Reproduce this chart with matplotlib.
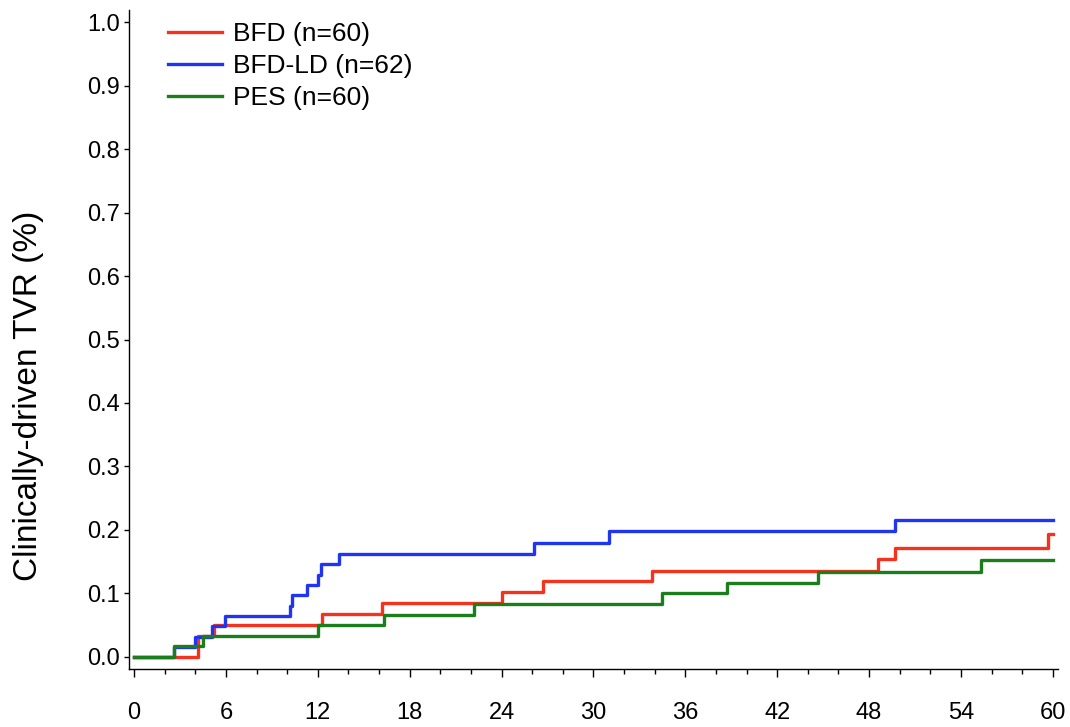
import numpy as np
import matplotlib.pyplot as plt
from matplotlib.ticker import MultipleLocator

plt.rcParams['font.family'] = ['Liberation Sans', 'DejaVu Sans']

# Kaplan-Meier style cumulative incidence, months vs proportion
bfd_t = [0, 4.15, 5.2, 12.3, 16.2, 24.0, 26.7, 33.85, 48.6, 49.7, 59.7, 60]
bfd_y = [0, 0.033, 0.051, 0.068, 0.085, 0.102, 0.119, 0.136, 0.155, 0.172, 0.193, 0.193]

bfdld_t = [0, 2.6, 4.0, 5.07, 5.94, 10.15, 10.3, 11.28, 12.0, 12.2, 13.4, 26.15, 31.0, 49.7, 60]
bfdld_y = [0, 0.016, 0.032, 0.048, 0.065, 0.081, 0.097, 0.113, 0.129, 0.146, 0.162, 0.179, 0.198, 0.216, 0.216]

pes_t = [0, 2.6, 4.5, 12.0, 16.3, 22.2, 34.5, 38.7, 44.7, 55.3, 60]
pes_y = [0, 0.0167, 0.033, 0.05, 0.0667, 0.083, 0.1, 0.117, 0.133, 0.153, 0.153]

labels = ['BFD (n=60)', 'BFD-LD (n=62)', 'PES (n=60)']
colors = ['#f5321e', '#1f35f2', '#1c7d1c']

fig = plt.figure(figsize=(10.7, 7.27), dpi=100)
ax = fig.add_axes([0.1206, 0.0798, 0.868, 0.9064])

ax.step(bfd_t, bfd_y, where='post', color=colors[0], lw=2.4, label=labels[0])
ax.step(bfdld_t, bfdld_y, where='post', color=colors[1], lw=2.4, label=labels[1])
ax.step(pes_t, pes_y, where='post', color=colors[2], lw=2.4, label=labels[2])

ax.set_xlim(-0.33, 60.33)
ax.set_ylim(-0.019, 1.019)
ax.xaxis.set_major_locator(MultipleLocator(6))
ax.xaxis.set_minor_locator(MultipleLocator(2))
ax.yaxis.set_major_locator(MultipleLocator(0.1))
ax.yaxis.set_major_formatter(plt.FuncFormatter(lambda v, p: '%.1f' % v))

for s in ['top', 'right']:
    ax.spines[s].set_visible(False)
for s in ['left', 'bottom']:
    ax.spines[s].set_linewidth(1.0)

ax.tick_params(axis='y', labelsize=17, length=3.5, width=1, pad=3)
ax.tick_params(axis='x', which='major', labelsize=17, length=6, width=1, pad=18)
ax.tick_params(axis='x', which='minor', length=3.5, width=1)

ax.set_ylabel('Clinically-driven TVR (%)', fontsize=24)
ax.yaxis.set_label_coords(-0.092, 0.415)

ax.legend(loc='upper left', bbox_to_anchor=(0.042, 0.982), frameon=False, fontsize=19,
          handlelength=2.05, handletextpad=0.42, labelspacing=0.31,
          borderpad=0, borderaxespad=0)

fig.savefig('out.png', dpi=100)
